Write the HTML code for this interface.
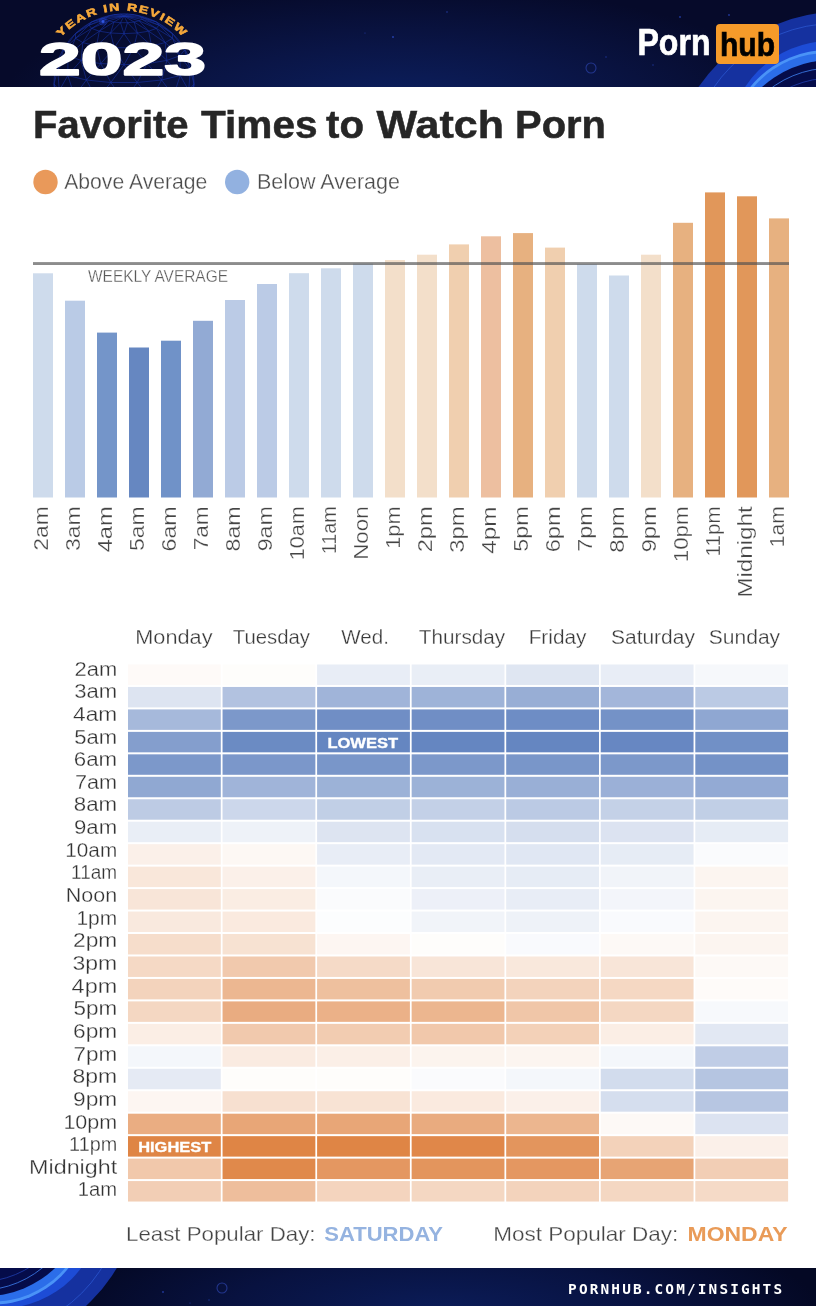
<!DOCTYPE html>
<html lang="en"><head><meta charset="utf-8"><title>Favorite Times to Watch Porn</title>
<style>html,body{margin:0;padding:0;background:#fff}body{width:816px;height:1306px;overflow:hidden}svg{display:block;will-change:transform}text{font-family:'Liberation Sans', sans-serif}.t{stroke:#fff;stroke-width:.28px}</style></head><body>
<svg width="816" height="1306" viewBox="0 0 816 1306">
<defs>
<radialGradient id="hbg" cx="400" cy="105" r="400" gradientUnits="userSpaceOnUse" gradientTransform="translate(400 105) scale(1 0.30) translate(-400 -105)"><stop offset="0" stop-color="#0c2060"/><stop offset="0.5" stop-color="#0a1546"/><stop offset="1" stop-color="#060a2a"/></radialGradient>
<radialGradient id="fbg" cx="440" cy="1310" r="380" gradientUnits="userSpaceOnUse" gradientTransform="translate(440 1310) scale(1 0.25) translate(-440 -1310)"><stop offset="0" stop-color="#0b1c58"/><stop offset="0.55" stop-color="#081240"/><stop offset="1" stop-color="#040824"/></radialGradient>
<clipPath id="hclip"><rect x="0" y="0" width="816" height="87"/></clipPath>
<clipPath id="fclip"><rect x="0" y="1268" width="816" height="38"/></clipPath>
<path id="arc" d="M 56.20 42.59 A 83.5 83.5 0 0 1 187.80 42.59"/>
</defs>
<rect width="816" height="1306" fill="#fff"/>
<g clip-path="url(#hclip)">
<rect x="0" y="0" width="816" height="87" fill="url(#hbg)"/>
<circle cx="841.0" cy="184.5" r="172.7" fill="#15319f"/>
<circle cx="834.8" cy="170.1" r="146.6" fill="none" stroke="#2a55cf" stroke-width="0.8"/>
<circle cx="829.9" cy="142.5" r="101.4" fill="#1d4cd6"/>
<circle cx="827.3" cy="149.0" r="98.9" fill="#4a93f7"/>
<circle cx="827.3" cy="149.6" r="96.6" fill="#2b6de9"/>
<circle cx="831.7" cy="164.1" r="104.0" fill="#050c4a"/>
<circle cx="832.0" cy="170.0" r="102.0" fill="none" stroke="#3f82f2" stroke-width="0.8"/>
<circle cx="832.0" cy="178.0" r="100.0" fill="none" stroke="#1f3fb0" stroke-width="0.8"/>
<circle cx="591" cy="68" r="5" fill="none" stroke="#22358c" stroke-width="1.1"/>
<circle cx="393" cy="37" r="1.1" fill="#2945b8" opacity="0.8"/>
<circle cx="447" cy="12" r="0.8" fill="#2945b8" opacity="0.8"/>
<circle cx="365" cy="33" r="0.6" fill="#2945b8" opacity="0.8"/>
<circle cx="606" cy="57" r="0.7" fill="#2945b8" opacity="0.8"/>
<circle cx="653" cy="65" r="0.7" fill="#2945b8" opacity="0.8"/>
<circle cx="680" cy="17" r="0.9" fill="#2945b8" opacity="0.8"/>
<circle cx="729" cy="15" r="0.9" fill="#2945b8" opacity="0.8"/>
<g fill="none" stroke="#1c3cc0" stroke-width="0.6" opacity="0.8">
<circle cx="124.0" cy="84.0" r="70.0"/>
<path d="M124.0 16.1L127.5 22.7M124.0 16.1L134.1 22.0M124.0 16.1L139.1 20.8M124.0 16.1L141.8 19.2M124.0 16.1L141.8 17.5M124.0 16.1L139.1 16.0M124.0 16.1L134.1 14.7M124.0 16.1L127.5 14.1M124.0 16.1L120.5 14.1M124.0 16.1L113.9 14.7M124.0 16.1L108.9 16.0M124.0 16.1L106.2 17.5M124.0 16.1L106.2 19.2M124.0 16.1L108.9 20.8M124.0 16.1L113.9 22.0M124.0 16.1L120.5 22.7M127.5 22.7L134.1 22.0M134.1 22.0L139.1 20.8M139.1 20.8L141.8 19.2M141.8 19.2L141.8 17.5M141.8 17.5L139.1 16.0M139.1 16.0L134.1 14.7M134.1 14.7L127.5 14.1M127.5 14.1L120.5 14.1M120.5 14.1L113.9 14.7M113.9 14.7L108.9 16.0M108.9 16.0L106.2 17.5M106.2 17.5L106.2 19.2M106.2 19.2L108.9 20.8M108.9 20.8L113.9 22.0M113.9 22.0L120.5 22.7M120.5 22.7L127.5 22.7M127.5 22.7L124.0 33.6M127.5 22.7L137.4 33.0M134.1 22.0L137.4 33.0M134.1 22.0L148.7 31.2M139.1 20.8L148.7 31.2M139.1 20.8L156.3 28.4M141.8 19.2L156.3 28.4M141.8 19.2L159.0 25.2M141.8 17.5L159.0 25.2M141.8 17.5L156.3 21.9M139.1 16.0L156.3 21.9M108.9 16.0L91.7 21.9M106.2 17.5L91.7 21.9M106.2 17.5L89.0 25.2M106.2 19.2L89.0 25.2M106.2 19.2L91.7 28.4M108.9 20.8L91.7 28.4M108.9 20.8L99.3 31.2M113.9 22.0L99.3 31.2M113.9 22.0L110.6 33.0M120.5 22.7L110.6 33.0M120.5 22.7L124.0 33.6M124.0 33.6L137.4 33.0M137.4 33.0L148.7 31.2M148.7 31.2L156.3 28.4M156.3 28.4L159.0 25.2M159.0 25.2L156.3 21.9M91.7 21.9L89.0 25.2M89.0 25.2L91.7 28.4M91.7 28.4L99.3 31.2M99.3 31.2L110.6 33.0M110.6 33.0L124.0 33.6M124.0 33.6L133.7 47.7M124.0 33.6L114.3 47.7M137.4 33.0L151.5 45.9M137.4 33.0L133.7 47.7M148.7 31.2L165.2 42.6M148.7 31.2L151.5 45.9M156.3 28.4L172.5 38.3M156.3 28.4L165.2 42.6M159.0 25.2L172.5 33.6M159.0 25.2L172.5 38.3M156.3 21.9L172.5 33.6M91.7 21.9L75.5 33.6M89.0 25.2L75.5 38.3M89.0 25.2L75.5 33.6M91.7 28.4L82.8 42.6M91.7 28.4L75.5 38.3M99.3 31.2L96.5 45.9M99.3 31.2L82.8 42.6M110.6 33.0L114.3 47.7M110.6 33.0L96.5 45.9M133.7 47.7L151.5 45.9M151.5 45.9L165.2 42.6M165.2 42.6L172.5 38.3M172.5 38.3L172.5 33.6M75.5 33.6L75.5 38.3M75.5 38.3L82.8 42.6M82.8 42.6L96.5 45.9M96.5 45.9L114.3 47.7M114.3 47.7L133.7 47.7M133.7 47.7L124.0 64.7M133.7 47.7L147.2 63.6M151.5 45.9L147.2 63.6M151.5 45.9L166.9 60.4M165.2 42.6L166.9 60.4M165.2 42.6L180.0 55.7M172.5 38.3L180.0 55.7M172.5 38.3L184.6 50.0M172.5 33.6L184.6 50.0M75.5 33.6L63.4 50.0M75.5 38.3L63.4 50.0M75.5 38.3L68.0 55.7M82.8 42.6L68.0 55.7M82.8 42.6L81.1 60.4M96.5 45.9L81.1 60.4M96.5 45.9L100.8 63.6M114.3 47.7L100.8 63.6M114.3 47.7L124.0 64.7M124.0 64.7L147.2 63.6M147.2 63.6L166.9 60.4M166.9 60.4L180.0 55.7M180.0 55.7L184.6 50.0M63.4 50.0L68.0 55.7M68.0 55.7L81.1 60.4M81.1 60.4L100.8 63.6M100.8 63.6L124.0 64.7M124.0 64.7L137.2 82.5M124.0 64.7L110.8 82.5M147.2 63.6L161.6 80.0M147.2 63.6L137.2 82.5M166.9 60.4L180.2 75.5M166.9 60.4L161.6 80.0M180.0 55.7L190.3 69.6M180.0 55.7L180.2 75.5M184.6 50.0L190.3 69.6M63.4 50.0L57.7 69.6M68.0 55.7L67.8 75.5M68.0 55.7L57.7 69.6M81.1 60.4L86.4 80.0M81.1 60.4L67.8 75.5M100.8 63.6L110.8 82.5M100.8 63.6L86.4 80.0M137.2 82.5L161.6 80.0M161.6 80.0L180.2 75.5M180.2 75.5L190.3 69.6M57.7 69.6L67.8 75.5M67.8 75.5L86.4 80.0M86.4 80.0L110.8 82.5M110.8 82.5L137.2 82.5M137.2 82.5L124.0 100.9M137.2 82.5L150.8 99.6M161.6 80.0L150.8 99.6M161.6 80.0L173.5 96.0M180.2 75.5L173.5 96.0M180.2 75.5L188.7 90.5M190.3 69.6L188.7 90.5M190.3 69.6L194.0 84.0M57.7 69.6L54.0 84.0M57.7 69.6L59.3 90.5M67.8 75.5L59.3 90.5M67.8 75.5L74.5 96.0M86.4 80.0L74.5 96.0M86.4 80.0L97.2 99.6M110.8 82.5L97.2 99.6M110.8 82.5L124.0 100.9M124.0 100.9L150.8 99.6M150.8 99.6L173.5 96.0M173.5 96.0L188.7 90.5M188.7 90.5L194.0 84.0M54.0 84.0L59.3 90.5M59.3 90.5L74.5 96.0M74.5 96.0L97.2 99.6M97.2 99.6L124.0 100.9M124.0 100.9L137.2 117.6M124.0 100.9L110.8 117.6M150.8 99.6L161.6 115.2M150.8 99.6L137.2 117.6M173.5 96.0L180.2 110.7M173.5 96.0L161.6 115.2M188.7 90.5L190.3 104.8M188.7 90.5L180.2 110.7M194.0 84.0L190.3 104.8M54.0 84.0L57.7 104.8M59.3 90.5L67.8 110.7M59.3 90.5L57.7 104.8M74.5 96.0L86.4 115.2M74.5 96.0L67.8 110.7M97.2 99.6L110.8 117.6M97.2 99.6L86.4 115.2M137.2 117.6L161.6 115.2M161.6 115.2L180.2 110.7M180.2 110.7L190.3 104.8M57.7 104.8L67.8 110.7M67.8 110.7L86.4 115.2M86.4 115.2L110.8 117.6M110.8 117.6L137.2 117.6"/>
</g>
<circle cx="103" cy="21.5" r="4" fill="#2a55ff" opacity="0.25"/><circle cx="103" cy="21.5" r="1.5" fill="#3b66ff" opacity="0.75"/>
</g>
<text font-size="10.4" font-weight="bold" fill="#f5a83b" stroke="#f5a83b" stroke-width="0.55" letter-spacing="1.2"><textPath href="#arc" startOffset="7" textLength="138" lengthAdjust="spacingAndGlyphs">YEAR IN REVIEW</textPath></text>
<text x="39" y="75" font-size="45.8" font-weight="bold" fill="#fff" stroke="#fff" stroke-width="1.6" stroke-linejoin="round" textLength="167" lengthAdjust="spacingAndGlyphs">2023</text>
<text x="637.5" y="55" font-size="36" font-weight="bold" fill="#fff" stroke="#fff" stroke-width="0.7" textLength="73" lengthAdjust="spacingAndGlyphs">Porn</text>
<rect x="716" y="24" width="63" height="40" rx="4" fill="#f69b2a"/>
<text x="720" y="55.5" font-size="34" font-weight="bold" fill="#000" stroke="#000" stroke-width="0.7" textLength="55" lengthAdjust="spacingAndGlyphs">hub</text>
<text y="137.6" font-size="38.6" font-weight="bold" fill="#262626" stroke="#262626" stroke-width="0.5"><tspan x="33" textLength="155.6" lengthAdjust="spacingAndGlyphs">Favorite</tspan> <tspan x="201" textLength="116.6" lengthAdjust="spacingAndGlyphs">Times</tspan> <tspan x="326" textLength="38" lengthAdjust="spacingAndGlyphs">to</tspan> <tspan x="376.5" textLength="127.5" lengthAdjust="spacingAndGlyphs">Watch</tspan> <tspan x="515" textLength="91" lengthAdjust="spacingAndGlyphs">Porn</tspan></text>
<circle cx="45.5" cy="182" r="12.2" fill="#e9995a"/>
<text class="t" x="64.2" y="189.4" font-size="21.3" fill="#4a4a4a" textLength="143.2" lengthAdjust="spacingAndGlyphs">Above Average</text>
<circle cx="237.2" cy="182" r="12.2" fill="#92b1e0"/>
<text class="t" x="256.9" y="189.4" font-size="21.3" fill="#4a4a4a" textLength="143.1" lengthAdjust="spacingAndGlyphs">Below Average</text>
<rect x="33" y="273.3" width="20" height="224.2" fill="#cedbec"/>
<rect x="65" y="300.7" width="20" height="196.8" fill="#bacbe6"/>
<rect x="97" y="332.6" width="20" height="164.9" fill="#7495c9"/>
<rect x="129" y="347.5" width="20" height="150.0" fill="#6687c1"/>
<rect x="161" y="340.7" width="20" height="156.8" fill="#7092c8"/>
<rect x="193" y="320.8" width="20" height="176.7" fill="#92aad4"/>
<rect x="225" y="300.0" width="20" height="197.5" fill="#bbcbe6"/>
<rect x="257" y="284.0" width="20" height="213.5" fill="#bbcbe6"/>
<rect x="289" y="273.2" width="20" height="224.3" fill="#cedbec"/>
<rect x="321" y="268.3" width="20" height="229.2" fill="#cedbec"/>
<rect x="353" y="263.6" width="20" height="233.9" fill="#cedbec"/>
<rect x="385" y="260.0" width="20" height="237.5" fill="#f3dfca"/>
<rect x="417" y="254.7" width="20" height="242.8" fill="#f3dfca"/>
<rect x="449" y="244.4" width="20" height="253.1" fill="#f0cfaf"/>
<rect x="481" y="236.3" width="20" height="261.2" fill="#edbfa0"/>
<rect x="513" y="233.1" width="20" height="264.4" fill="#e7b180"/>
<rect x="545" y="247.6" width="20" height="249.9" fill="#f0cfaf"/>
<rect x="577" y="264.2" width="20" height="233.3" fill="#cedbec"/>
<rect x="609" y="275.5" width="20" height="222.0" fill="#cedbec"/>
<rect x="641" y="254.7" width="20" height="242.8" fill="#f3dfca"/>
<rect x="673" y="222.8" width="20" height="274.7" fill="#e7b180"/>
<rect x="705" y="192.4" width="20" height="305.1" fill="#e1975a"/>
<rect x="737" y="196.3" width="20" height="301.2" fill="#e1975a"/>
<rect x="769" y="218.4" width="20" height="279.1" fill="#e7b180"/>
<rect x="33" y="262.1" width="756" height="2.9" fill="#505050" fill-opacity="0.66"/>
<text class="t" x="88" y="281.9" font-size="16" fill="#5a5a5a" textLength="140" lengthAdjust="spacingAndGlyphs">WEEKLY AVERAGE</text>
<text class="t" transform="translate(47.6 506.3) rotate(-90)" text-anchor="end" font-size="20.5" fill="#444" textLength="44.5" lengthAdjust="spacingAndGlyphs">2am</text>
<text class="t" transform="translate(79.6 506.3) rotate(-90)" text-anchor="end" font-size="20.5" fill="#444" textLength="44.8" lengthAdjust="spacingAndGlyphs">3am</text>
<text class="t" transform="translate(111.6 506.3) rotate(-90)" text-anchor="end" font-size="20.5" fill="#444" textLength="46.0" lengthAdjust="spacingAndGlyphs">4am</text>
<text class="t" transform="translate(143.6 506.3) rotate(-90)" text-anchor="end" font-size="20.5" fill="#444" textLength="44.7" lengthAdjust="spacingAndGlyphs">5am</text>
<text class="t" transform="translate(175.6 506.3) rotate(-90)" text-anchor="end" font-size="20.5" fill="#444" textLength="45.2" lengthAdjust="spacingAndGlyphs">6am</text>
<text class="t" transform="translate(207.6 506.3) rotate(-90)" text-anchor="end" font-size="20.5" fill="#444" textLength="44.0" lengthAdjust="spacingAndGlyphs">7am</text>
<text class="t" transform="translate(239.6 506.3) rotate(-90)" text-anchor="end" font-size="20.5" fill="#444" textLength="45.2" lengthAdjust="spacingAndGlyphs">8am</text>
<text class="t" transform="translate(271.6 506.3) rotate(-90)" text-anchor="end" font-size="20.5" fill="#444" textLength="45.0" lengthAdjust="spacingAndGlyphs">9am</text>
<text class="t" transform="translate(303.6 506.3) rotate(-90)" text-anchor="end" font-size="20.5" fill="#444" textLength="54.0" lengthAdjust="spacingAndGlyphs">10am</text>
<text class="t" transform="translate(335.6 506.3) rotate(-90)" text-anchor="end" font-size="20.5" fill="#444" textLength="48.0" lengthAdjust="spacingAndGlyphs">11am</text>
<text class="t" transform="translate(367.6 506.3) rotate(-90)" text-anchor="end" font-size="20.5" fill="#444" textLength="53.5" lengthAdjust="spacingAndGlyphs">Noon</text>
<text class="t" transform="translate(399.6 506.3) rotate(-90)" text-anchor="end" font-size="20.5" fill="#444" textLength="42.5" lengthAdjust="spacingAndGlyphs">1pm</text>
<text class="t" transform="translate(431.6 506.3) rotate(-90)" text-anchor="end" font-size="20.5" fill="#444" textLength="46.0" lengthAdjust="spacingAndGlyphs">2pm</text>
<text class="t" transform="translate(463.6 506.3) rotate(-90)" text-anchor="end" font-size="20.5" fill="#444" textLength="46.5" lengthAdjust="spacingAndGlyphs">3pm</text>
<text class="t" transform="translate(495.6 506.3) rotate(-90)" text-anchor="end" font-size="20.5" fill="#444" textLength="47.5" lengthAdjust="spacingAndGlyphs">4pm</text>
<text class="t" transform="translate(527.6 506.3) rotate(-90)" text-anchor="end" font-size="20.5" fill="#444" textLength="45.5" lengthAdjust="spacingAndGlyphs">5pm</text>
<text class="t" transform="translate(559.6 506.3) rotate(-90)" text-anchor="end" font-size="20.5" fill="#444" textLength="46.0" lengthAdjust="spacingAndGlyphs">6pm</text>
<text class="t" transform="translate(591.6 506.3) rotate(-90)" text-anchor="end" font-size="20.5" fill="#444" textLength="45.5" lengthAdjust="spacingAndGlyphs">7pm</text>
<text class="t" transform="translate(623.6 506.3) rotate(-90)" text-anchor="end" font-size="20.5" fill="#444" textLength="46.5" lengthAdjust="spacingAndGlyphs">8pm</text>
<text class="t" transform="translate(655.6 506.3) rotate(-90)" text-anchor="end" font-size="20.5" fill="#444" textLength="46.0" lengthAdjust="spacingAndGlyphs">9pm</text>
<text class="t" transform="translate(687.6 506.3) rotate(-90)" text-anchor="end" font-size="20.5" fill="#444" textLength="56.0" lengthAdjust="spacingAndGlyphs">10pm</text>
<text class="t" transform="translate(719.6 506.3) rotate(-90)" text-anchor="end" font-size="20.5" fill="#444" textLength="50.1" lengthAdjust="spacingAndGlyphs">11pm</text>
<text class="t" transform="translate(751.6 506.3) rotate(-90)" text-anchor="end" font-size="20.5" fill="#444" textLength="91.5" lengthAdjust="spacingAndGlyphs">Midnight</text>
<text class="t" transform="translate(783.6 506.3) rotate(-90)" text-anchor="end" font-size="20.5" fill="#444" textLength="41.0" lengthAdjust="spacingAndGlyphs">1am</text>
<text class="t" x="135.3" y="643.9" font-size="20" fill="#3a3a3a" textLength="77.2" lengthAdjust="spacingAndGlyphs">Monday</text>
<text class="t" x="232.8" y="643.9" font-size="20" fill="#3a3a3a" textLength="77.2" lengthAdjust="spacingAndGlyphs">Tuesday</text>
<text class="t" x="341.3" y="643.9" font-size="20" fill="#3a3a3a" textLength="47.7" lengthAdjust="spacingAndGlyphs">Wed.</text>
<text class="t" x="418.8" y="643.9" font-size="20" fill="#3a3a3a" textLength="86.4" lengthAdjust="spacingAndGlyphs">Thursday</text>
<text class="t" x="528.7" y="643.9" font-size="20" fill="#3a3a3a" textLength="57.7" lengthAdjust="spacingAndGlyphs">Friday</text>
<text class="t" x="611.0" y="643.9" font-size="20" fill="#3a3a3a" textLength="83.9" lengthAdjust="spacingAndGlyphs">Saturday</text>
<text class="t" x="708.8" y="643.9" font-size="20" fill="#3a3a3a" textLength="71.3" lengthAdjust="spacingAndGlyphs">Sunday</text>
<text class="t" x="117.2" y="675.5" text-anchor="end" font-size="19.6" fill="#333" textLength="42.7" lengthAdjust="spacingAndGlyphs">2am</text>
<rect x="128.00" y="664.50" width="92.80" height="20.45" fill="#fefaf8"/>
<rect x="222.55" y="664.50" width="92.80" height="20.45" fill="#fefdfb"/>
<rect x="317.10" y="664.50" width="92.80" height="20.45" fill="#e8edf6"/>
<rect x="411.65" y="664.50" width="92.80" height="20.45" fill="#e9eef6"/>
<rect x="506.20" y="664.50" width="92.80" height="20.45" fill="#dfe6f2"/>
<rect x="600.75" y="664.50" width="92.80" height="20.45" fill="#e8edf6"/>
<rect x="695.30" y="664.50" width="92.80" height="20.45" fill="#f6f8fb"/>
<text class="t" x="117.2" y="698.1" text-anchor="end" font-size="19.6" fill="#333" textLength="43.0" lengthAdjust="spacingAndGlyphs">3am</text>
<rect x="128.00" y="686.96" width="92.80" height="20.45" fill="#dde4f1"/>
<rect x="222.55" y="686.96" width="92.80" height="20.45" fill="#b2c2e0"/>
<rect x="317.10" y="686.96" width="92.80" height="20.45" fill="#a0b4d9"/>
<rect x="411.65" y="686.96" width="92.80" height="20.45" fill="#9eb3d8"/>
<rect x="506.20" y="686.96" width="92.80" height="20.45" fill="#98aed5"/>
<rect x="600.75" y="686.96" width="92.80" height="20.45" fill="#a3b6da"/>
<rect x="695.30" y="686.96" width="92.80" height="20.45" fill="#bbcae4"/>
<text class="t" x="117.2" y="720.8" text-anchor="end" font-size="19.6" fill="#333" textLength="44.2" lengthAdjust="spacingAndGlyphs">4am</text>
<rect x="128.00" y="709.42" width="92.80" height="20.45" fill="#a6b9db"/>
<rect x="222.55" y="709.42" width="92.80" height="20.45" fill="#7c98ca"/>
<rect x="317.10" y="709.42" width="92.80" height="20.45" fill="#708ec5"/>
<rect x="411.65" y="709.42" width="92.80" height="20.45" fill="#708ec5"/>
<rect x="506.20" y="709.42" width="92.80" height="20.45" fill="#6e8dc5"/>
<rect x="600.75" y="709.42" width="92.80" height="20.45" fill="#7492c7"/>
<rect x="695.30" y="709.42" width="92.80" height="20.45" fill="#8fa7d2"/>
<text class="t" x="117.2" y="743.5" text-anchor="end" font-size="19.6" fill="#333" textLength="42.9" lengthAdjust="spacingAndGlyphs">5am</text>
<rect x="128.00" y="731.88" width="92.80" height="20.45" fill="#849ecd"/>
<rect x="222.55" y="731.88" width="92.80" height="20.45" fill="#6b8bc3"/>
<rect x="317.10" y="731.88" width="92.80" height="20.45" fill="#6586c1"/>
<rect x="411.65" y="731.88" width="92.80" height="20.45" fill="#6586c1"/>
<rect x="506.20" y="731.88" width="92.80" height="20.45" fill="#6586c1"/>
<rect x="600.75" y="731.88" width="92.80" height="20.45" fill="#6787c2"/>
<rect x="695.30" y="731.88" width="92.80" height="20.45" fill="#7190c6"/>
<text class="t" x="117.2" y="766.1" text-anchor="end" font-size="19.6" fill="#333" textLength="43.4" lengthAdjust="spacingAndGlyphs">6am</text>
<rect x="128.00" y="754.34" width="92.80" height="20.45" fill="#7c98ca"/>
<rect x="222.55" y="754.34" width="92.80" height="20.45" fill="#7b97ca"/>
<rect x="317.10" y="754.34" width="92.80" height="20.45" fill="#7996c9"/>
<rect x="411.65" y="754.34" width="92.80" height="20.45" fill="#7c98ca"/>
<rect x="506.20" y="754.34" width="92.80" height="20.45" fill="#7996c9"/>
<rect x="600.75" y="754.34" width="92.80" height="20.45" fill="#7c98ca"/>
<rect x="695.30" y="754.34" width="92.80" height="20.45" fill="#7492c7"/>
<text class="t" x="117.2" y="788.8" text-anchor="end" font-size="19.6" fill="#333" textLength="42.2" lengthAdjust="spacingAndGlyphs">7am</text>
<rect x="128.00" y="776.80" width="92.80" height="20.45" fill="#90a8d2"/>
<rect x="222.55" y="776.80" width="92.80" height="20.45" fill="#a0b4d9"/>
<rect x="317.10" y="776.80" width="92.80" height="20.45" fill="#9cb2d7"/>
<rect x="411.65" y="776.80" width="92.80" height="20.45" fill="#9cb2d7"/>
<rect x="506.20" y="776.80" width="92.80" height="20.45" fill="#99afd6"/>
<rect x="600.75" y="776.80" width="92.80" height="20.45" fill="#9bb0d7"/>
<rect x="695.30" y="776.80" width="92.80" height="20.45" fill="#93aad4"/>
<text class="t" x="117.2" y="811.4" text-anchor="end" font-size="19.6" fill="#333" textLength="43.4" lengthAdjust="spacingAndGlyphs">8am</text>
<rect x="128.00" y="799.26" width="92.80" height="20.45" fill="#bdcbe4"/>
<rect x="222.55" y="799.26" width="92.80" height="20.45" fill="#ccd7eb"/>
<rect x="317.10" y="799.26" width="92.80" height="20.45" fill="#c1cfe6"/>
<rect x="411.65" y="799.26" width="92.80" height="20.45" fill="#c3d0e7"/>
<rect x="506.20" y="799.26" width="92.80" height="20.45" fill="#bbcae4"/>
<rect x="600.75" y="799.26" width="92.80" height="20.45" fill="#c4d1e7"/>
<rect x="695.30" y="799.26" width="92.80" height="20.45" fill="#c1cfe6"/>
<text class="t" x="117.2" y="834.0" text-anchor="end" font-size="19.6" fill="#333" textLength="43.2" lengthAdjust="spacingAndGlyphs">9am</text>
<rect x="128.00" y="821.72" width="92.80" height="20.45" fill="#e9eef6"/>
<rect x="222.55" y="821.72" width="92.80" height="20.45" fill="#eef2f8"/>
<rect x="317.10" y="821.72" width="92.80" height="20.45" fill="#dde4f1"/>
<rect x="411.65" y="821.72" width="92.80" height="20.45" fill="#d8e1f0"/>
<rect x="506.20" y="821.72" width="92.80" height="20.45" fill="#d5deee"/>
<rect x="600.75" y="821.72" width="92.80" height="20.45" fill="#dce3f1"/>
<rect x="695.30" y="821.72" width="92.80" height="20.45" fill="#e6ecf5"/>
<text class="t" x="117.2" y="856.7" text-anchor="end" font-size="19.6" fill="#333" textLength="51.9" lengthAdjust="spacingAndGlyphs">10am</text>
<rect x="128.00" y="844.18" width="92.80" height="20.45" fill="#fbf0e9"/>
<rect x="222.55" y="844.18" width="92.80" height="20.45" fill="#fdf8f4"/>
<rect x="317.10" y="844.18" width="92.80" height="20.45" fill="#e8edf6"/>
<rect x="411.65" y="844.18" width="92.80" height="20.45" fill="#e3e9f4"/>
<rect x="506.20" y="844.18" width="92.80" height="20.45" fill="#e0e7f3"/>
<rect x="600.75" y="844.18" width="92.80" height="20.45" fill="#e6ecf5"/>
<rect x="695.30" y="844.18" width="92.80" height="20.45" fill="#fafbfd"/>
<text class="t" x="117.2" y="879.4" text-anchor="end" font-size="19.6" fill="#333" textLength="46.1" lengthAdjust="spacingAndGlyphs">11am</text>
<rect x="128.00" y="866.64" width="92.80" height="20.45" fill="#f9e7da"/>
<rect x="222.55" y="866.64" width="92.80" height="20.45" fill="#fbf0e9"/>
<rect x="317.10" y="866.64" width="92.80" height="20.45" fill="#f4f7fb"/>
<rect x="411.65" y="866.64" width="92.80" height="20.45" fill="#e9eef6"/>
<rect x="506.20" y="866.64" width="92.80" height="20.45" fill="#e6ecf5"/>
<rect x="600.75" y="866.64" width="92.80" height="20.45" fill="#f1f4f9"/>
<rect x="695.30" y="866.64" width="92.80" height="20.45" fill="#fcf5f0"/>
<text class="t" x="117.2" y="902.0" text-anchor="end" font-size="19.6" fill="#333" textLength="51.4" lengthAdjust="spacingAndGlyphs">Noon</text>
<rect x="128.00" y="889.10" width="92.80" height="20.45" fill="#f8e5d8"/>
<rect x="222.55" y="889.10" width="92.80" height="20.45" fill="#faede3"/>
<rect x="317.10" y="889.10" width="92.80" height="20.45" fill="#fafbfd"/>
<rect x="411.65" y="889.10" width="92.80" height="20.45" fill="#edf0f8"/>
<rect x="506.20" y="889.10" width="92.80" height="20.45" fill="#e8edf6"/>
<rect x="600.75" y="889.10" width="92.80" height="20.45" fill="#f3f5fa"/>
<rect x="695.30" y="889.10" width="92.80" height="20.45" fill="#fcf5f0"/>
<text class="t" x="117.2" y="924.6" text-anchor="end" font-size="19.6" fill="#333" textLength="40.8" lengthAdjust="spacingAndGlyphs">1pm</text>
<rect x="128.00" y="911.56" width="92.80" height="20.45" fill="#f9e9de"/>
<rect x="222.55" y="911.56" width="92.80" height="20.45" fill="#faeadf"/>
<rect x="317.10" y="911.56" width="92.80" height="20.45" fill="#fcfdfe"/>
<rect x="411.65" y="911.56" width="92.80" height="20.45" fill="#f1f4f9"/>
<rect x="506.20" y="911.56" width="92.80" height="20.45" fill="#eef2f8"/>
<rect x="600.75" y="911.56" width="92.80" height="20.45" fill="#f9fafd"/>
<rect x="695.30" y="911.56" width="92.80" height="20.45" fill="#fcf5f0"/>
<text class="t" x="117.2" y="947.3" text-anchor="end" font-size="19.6" fill="#333" textLength="44.2" lengthAdjust="spacingAndGlyphs">2pm</text>
<rect x="128.00" y="934.02" width="92.80" height="20.45" fill="#f6ddcb"/>
<rect x="222.55" y="934.02" width="92.80" height="20.45" fill="#f7e2d2"/>
<rect x="317.10" y="934.02" width="92.80" height="20.45" fill="#fdf6f2"/>
<rect x="411.65" y="934.02" width="92.80" height="20.45" fill="#fefdfb"/>
<rect x="506.20" y="934.02" width="92.80" height="20.45" fill="#f9fafd"/>
<rect x="600.75" y="934.02" width="92.80" height="20.45" fill="#fdf9f6"/>
<rect x="695.30" y="934.02" width="92.80" height="20.45" fill="#fcf5f0"/>
<text class="t" x="117.2" y="970.0" text-anchor="end" font-size="19.6" fill="#333" textLength="44.7" lengthAdjust="spacingAndGlyphs">3pm</text>
<rect x="128.00" y="956.48" width="92.80" height="20.45" fill="#f5d9c5"/>
<rect x="222.55" y="956.48" width="92.80" height="20.45" fill="#f1c9ad"/>
<rect x="317.10" y="956.48" width="92.80" height="20.45" fill="#f5dac7"/>
<rect x="411.65" y="956.48" width="92.80" height="20.45" fill="#f8e5d8"/>
<rect x="506.20" y="956.48" width="92.80" height="20.45" fill="#f9e8dc"/>
<rect x="600.75" y="956.48" width="92.80" height="20.45" fill="#f8e5d8"/>
<rect x="695.30" y="956.48" width="92.80" height="20.45" fill="#fdf9f6"/>
<text class="t" x="117.2" y="992.6" text-anchor="end" font-size="19.6" fill="#333" textLength="45.6" lengthAdjust="spacingAndGlyphs">4pm</text>
<rect x="128.00" y="978.94" width="92.80" height="20.45" fill="#f3d3bc"/>
<rect x="222.55" y="978.94" width="92.80" height="20.45" fill="#ecb791"/>
<rect x="317.10" y="978.94" width="92.80" height="20.45" fill="#eec09e"/>
<rect x="411.65" y="978.94" width="92.80" height="20.45" fill="#f1cbaf"/>
<rect x="506.20" y="978.94" width="92.80" height="20.45" fill="#f3d3bc"/>
<rect x="600.75" y="978.94" width="92.80" height="20.45" fill="#f5d8c3"/>
<rect x="695.30" y="978.94" width="92.80" height="20.45" fill="#fefbf9"/>
<text class="t" x="117.2" y="1015.2" text-anchor="end" font-size="19.6" fill="#333" textLength="43.7" lengthAdjust="spacingAndGlyphs">5pm</text>
<rect x="128.00" y="1001.40" width="92.80" height="20.45" fill="#f4d7c2"/>
<rect x="222.55" y="1001.40" width="92.80" height="20.45" fill="#e9ac81"/>
<rect x="317.10" y="1001.40" width="92.80" height="20.45" fill="#ebb188"/>
<rect x="411.65" y="1001.40" width="92.80" height="20.45" fill="#ecb68f"/>
<rect x="506.20" y="1001.40" width="92.80" height="20.45" fill="#f0c6a8"/>
<rect x="600.75" y="1001.40" width="92.80" height="20.45" fill="#f4d7c2"/>
<rect x="695.30" y="1001.40" width="92.80" height="20.45" fill="#f7f9fc"/>
<text class="t" x="117.2" y="1037.9" text-anchor="end" font-size="19.6" fill="#333" textLength="44.2" lengthAdjust="spacingAndGlyphs">6pm</text>
<rect x="128.00" y="1023.86" width="92.80" height="20.45" fill="#fbeee5"/>
<rect x="222.55" y="1023.86" width="92.80" height="20.45" fill="#f1c9ad"/>
<rect x="317.10" y="1023.86" width="92.80" height="20.45" fill="#f2ccb1"/>
<rect x="411.65" y="1023.86" width="92.80" height="20.45" fill="#f1c8ab"/>
<rect x="506.20" y="1023.86" width="92.80" height="20.45" fill="#f3d1b8"/>
<rect x="600.75" y="1023.86" width="92.80" height="20.45" fill="#fbeee5"/>
<rect x="695.30" y="1023.86" width="92.80" height="20.45" fill="#e2e8f3"/>
<text class="t" x="117.2" y="1060.5" text-anchor="end" font-size="19.6" fill="#333" textLength="43.7" lengthAdjust="spacingAndGlyphs">7pm</text>
<rect x="128.00" y="1046.32" width="92.80" height="20.45" fill="#f4f7fb"/>
<rect x="222.55" y="1046.32" width="92.80" height="20.45" fill="#faebe1"/>
<rect x="317.10" y="1046.32" width="92.80" height="20.45" fill="#fbefe7"/>
<rect x="411.65" y="1046.32" width="92.80" height="20.45" fill="#fcf4ee"/>
<rect x="506.20" y="1046.32" width="92.80" height="20.45" fill="#fcf5f0"/>
<rect x="600.75" y="1046.32" width="92.80" height="20.45" fill="#f4f7fb"/>
<rect x="695.30" y="1046.32" width="92.80" height="20.45" fill="#c0cde6"/>
<text class="t" x="117.2" y="1083.2" text-anchor="end" font-size="19.6" fill="#333" textLength="44.7" lengthAdjust="spacingAndGlyphs">8pm</text>
<rect x="128.00" y="1068.78" width="92.80" height="20.45" fill="#e5eaf4"/>
<rect x="222.55" y="1068.78" width="92.80" height="20.45" fill="#fefdfb"/>
<rect x="317.10" y="1068.78" width="92.80" height="20.45" fill="#fefdfb"/>
<rect x="411.65" y="1068.78" width="92.80" height="20.45" fill="#fafbfd"/>
<rect x="506.20" y="1068.78" width="92.80" height="20.45" fill="#f4f7fb"/>
<rect x="600.75" y="1068.78" width="92.80" height="20.45" fill="#d2dced"/>
<rect x="695.30" y="1068.78" width="92.80" height="20.45" fill="#b5c5e1"/>
<text class="t" x="117.2" y="1105.8" text-anchor="end" font-size="19.6" fill="#333" textLength="44.2" lengthAdjust="spacingAndGlyphs">9pm</text>
<rect x="128.00" y="1091.24" width="92.80" height="20.45" fill="#fdf6f2"/>
<rect x="222.55" y="1091.24" width="92.80" height="20.45" fill="#f7e0d0"/>
<rect x="317.10" y="1091.24" width="92.80" height="20.45" fill="#f8e3d4"/>
<rect x="411.65" y="1091.24" width="92.80" height="20.45" fill="#faeadf"/>
<rect x="506.20" y="1091.24" width="92.80" height="20.45" fill="#fbf0e9"/>
<rect x="600.75" y="1091.24" width="92.80" height="20.45" fill="#d5deee"/>
<rect x="695.30" y="1091.24" width="92.80" height="20.45" fill="#b7c6e2"/>
<text class="t" x="117.2" y="1128.5" text-anchor="end" font-size="19.6" fill="#333" textLength="53.8" lengthAdjust="spacingAndGlyphs">10pm</text>
<rect x="128.00" y="1113.70" width="92.80" height="20.45" fill="#eaad82"/>
<rect x="222.55" y="1113.70" width="92.80" height="20.45" fill="#e8a677"/>
<rect x="317.10" y="1113.70" width="92.80" height="20.45" fill="#e8a677"/>
<rect x="411.65" y="1113.70" width="92.80" height="20.45" fill="#e9ab7f"/>
<rect x="506.20" y="1113.70" width="92.80" height="20.45" fill="#ecb68f"/>
<rect x="600.75" y="1113.70" width="92.80" height="20.45" fill="#fdf9f6"/>
<rect x="695.30" y="1113.70" width="92.80" height="20.45" fill="#dce3f1"/>
<text class="t" x="117.2" y="1151.2" text-anchor="end" font-size="19.6" fill="#333" textLength="48.1" lengthAdjust="spacingAndGlyphs">11pm</text>
<rect x="128.00" y="1136.16" width="92.80" height="20.45" fill="#df8545"/>
<rect x="222.55" y="1136.16" width="92.80" height="20.45" fill="#df8545"/>
<rect x="317.10" y="1136.16" width="92.80" height="20.45" fill="#df8545"/>
<rect x="411.65" y="1136.16" width="92.80" height="20.45" fill="#e08749"/>
<rect x="506.20" y="1136.16" width="92.80" height="20.45" fill="#e3955d"/>
<rect x="600.75" y="1136.16" width="92.80" height="20.45" fill="#f3d2ba"/>
<rect x="695.30" y="1136.16" width="92.80" height="20.45" fill="#fbf0e9"/>
<text class="t" x="117.2" y="1173.8" text-anchor="end" font-size="19.6" fill="#333" textLength="88.1" lengthAdjust="spacingAndGlyphs">Midnight</text>
<rect x="128.00" y="1158.62" width="92.80" height="20.45" fill="#f1c8ab"/>
<rect x="222.55" y="1158.62" width="92.80" height="20.45" fill="#e0894b"/>
<rect x="317.10" y="1158.62" width="92.80" height="20.45" fill="#e49761"/>
<rect x="411.65" y="1158.62" width="92.80" height="20.45" fill="#e3955d"/>
<rect x="506.20" y="1158.62" width="92.80" height="20.45" fill="#e49761"/>
<rect x="600.75" y="1158.62" width="92.80" height="20.45" fill="#e7a474"/>
<rect x="695.30" y="1158.62" width="92.80" height="20.45" fill="#f2ceb5"/>
<text class="t" x="117.2" y="1196.4" text-anchor="end" font-size="19.6" fill="#333" textLength="39.4" lengthAdjust="spacingAndGlyphs">1am</text>
<rect x="128.00" y="1181.08" width="92.80" height="20.45" fill="#f2ceb5"/>
<rect x="222.55" y="1181.08" width="92.80" height="20.45" fill="#eebe9c"/>
<rect x="317.10" y="1181.08" width="92.80" height="20.45" fill="#f4d4be"/>
<rect x="411.65" y="1181.08" width="92.80" height="20.45" fill="#f4d7c2"/>
<rect x="506.20" y="1181.08" width="92.80" height="20.45" fill="#f3d3bc"/>
<rect x="600.75" y="1181.08" width="92.80" height="20.45" fill="#f4d7c2"/>
<rect x="695.30" y="1181.08" width="92.80" height="20.45" fill="#f5dac7"/>
<text x="327.4" y="747.9" font-size="15.4" font-weight="bold" fill="#fff" stroke="#fff" stroke-width="0.35" textLength="70.8" lengthAdjust="spacingAndGlyphs">LOWEST</text>
<text x="138.2" y="1152" font-size="15.4" font-weight="bold" fill="#fff" stroke="#fff" stroke-width="0.35" textLength="73" lengthAdjust="spacingAndGlyphs">HIGHEST</text>
<text class="t" x="126" y="1240.8" font-size="21" fill="#444" textLength="189.5" lengthAdjust="spacingAndGlyphs">Least Popular Day:</text>
<text x="324.2" y="1240.8" font-size="21" font-weight="bold" fill="#95b3e0" textLength="118.8" lengthAdjust="spacingAndGlyphs">SATURDAY</text>
<text class="t" x="493.2" y="1240.8" font-size="21" fill="#444" textLength="185" lengthAdjust="spacingAndGlyphs">Most Popular Day:</text>
<text x="687.5" y="1240.8" font-size="21" font-weight="bold" fill="#e99b58" textLength="100" lengthAdjust="spacingAndGlyphs">MONDAY</text>
<g clip-path="url(#fclip)">
<rect x="0" y="1268" width="816" height="38" fill="url(#fbg)"/>
<circle cx="-27.7" cy="1182.3" r="168.0" fill="#15319f"/>
<circle cx="-19.1" cy="1192.3" r="142.6" fill="none" stroke="#2a55cf" stroke-width="0.8"/>
<circle cx="1.0" cy="1208.2" r="100.0" fill="#1d4cd6"/>
<circle cx="-6.8" cy="1208.5" r="96.0" fill="#4a93f7"/>
<circle cx="-6.8" cy="1207.9" r="93.7" fill="#2b6de9"/>
<circle cx="-14.8" cy="1195.1" r="101.0" fill="#050c4a"/>
<circle cx="-20.4" cy="1191.3" r="99.0" fill="none" stroke="#3f82f2" stroke-width="0.8"/>
<circle cx="-22.0" cy="1184.0" r="98.0" fill="none" stroke="#1f3fb0" stroke-width="0.8"/>
<circle cx="222" cy="1288" r="5" fill="none" stroke="#22358c" stroke-width="1.1"/>
<circle cx="163" cy="1292" r="0.9" fill="#2945b8" opacity="0.8"/>
<circle cx="209" cy="1300" r="0.7" fill="#2945b8" opacity="0.8"/>
<circle cx="190" cy="1303" r="0.6" fill="#2945b8" opacity="0.8"/>
</g>
<text x="568.1" y="1293.5" font-size="14.4" font-weight="bold" fill="#fff" style="font-family:'DejaVu Sans Mono', 'Liberation Mono', monospace" textLength="214" lengthAdjust="spacing">PORNHUB.COM/INSIGHTS</text>
</svg></body></html>
